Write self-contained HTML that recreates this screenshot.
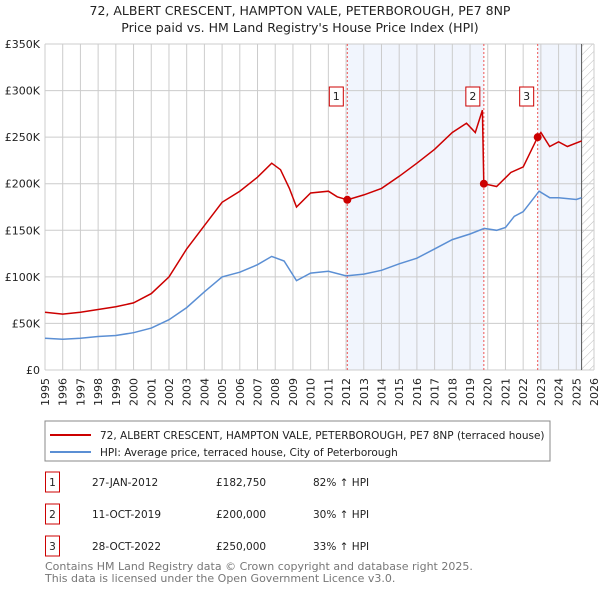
<!DOCTYPE html>
<html><head><meta charset="utf-8"><style>
body{margin:0;background:#fff;font-family:"Liberation Sans","DejaVu Sans",sans-serif;}
svg text{font-family:"DejaVu Sans","Liberation Sans",sans-serif;}
</style></head><body>
<svg id="c" width="600" height="590" xmlns="http://www.w3.org/2000/svg">
<defs><pattern id="hatch" width="6" height="6" patternUnits="userSpaceOnUse" patternTransform="rotate(45)"><line x1="0" y1="0" x2="0" y2="6" stroke="#bbb" stroke-width="1"/></pattern></defs>
<text x="300" y="15" text-anchor="middle" font-size="12.5" fill="#222">72, ALBERT CRESCENT, HAMPTON VALE, PETERBOROUGH, PE7 8NP</text>
<text x="300" y="32" text-anchor="middle" font-size="12.5" fill="#222">Price paid vs. HM Land Registry's House Price Index (HPI)</text>
<g id="plot"></g>
<rect x="45" y="421" width="505" height="40" fill="#fff" stroke="#888"/>
<line x1="50" y1="435" x2="91" y2="435" stroke="#cc0000" stroke-width="2"/>
<text x="100" y="439" font-size="10.5" fill="#222">72, ALBERT CRESCENT, HAMPTON VALE, PETERBOROUGH, PE7 8NP (terraced house)</text>
<line x1="50" y1="452" x2="91" y2="452" stroke="#5b8fd4" stroke-width="2"/>
<text x="100" y="456" font-size="10.5" fill="#222">HPI: Average price, terraced house, City of Peterborough</text>
<g id="tbl" font-size="10.5" fill="#222"></g>
<text x="45" y="570" font-size="11" fill="#777">Contains HM Land Registry data © Crown copyright and database right 2025.</text>
<text x="45" y="582" font-size="11" fill="#777">This data is licensed under the Open Government Licence v3.0.</text>
</svg>
<script>
const yTicks=[0,50,100,150,200,250,300,350];
const yTickLabels=["£0","£50K","£100K","£150K","£200K","£250K","£300K","£350K"];
const years=[1995,1996,1997,1998,1999,2000,2001,2002,2003,2004,2005,2006,2007,2008,2009,2010,2011,2012,2013,2014,2015,2016,2017,2018,2019,2020,2021,2022,2023,2024,2025,2026];
const hpiT=[1995,1996,1997,1998,1999,2000,2001,2002,2003,2004,2005,2006,2007,2007.8,2008.5,2009.2,2010,2011,2012,2013,2014,2015,2016,2017,2018,2019,2019.8,2020.5,2021,2021.5,2022,2022.9,2023.5,2024,2025,2025.3];
const hpiV=[34,33,34,36,37,40,45,54,67,84,100,105,113,122,117,96,104,106,101,103,107,114,120,130,140,146,152,150,153,165,170,192,185,185,183,185];
const redT=[1995,1996,1997,1998,1999,2000,2001,2002,2003,2004,2005,2006,2007,2007.8,2008.3,2008.8,2009.2,2010,2011,2011.5,2012.07,2013,2014,2015,2016,2017,2018,2018.8,2019.3,2019.7,2019.78,2020.5,2021.3,2022,2022.82,2023,2023.5,2024,2024.5,2025.3];
const redV=[62,60,62,65,68,72,82,100,130,155,180,192,207,222,215,195,175,190,192,186,182.75,188,195,208,222,237,255,265,255,279,200,197,212,218,250,255,240,245,240,246];
const saleT=[2012.07,2019.78,2022.82];
const saleV=[182.75,200,250];
const saleLabels=["1","2","3"];
const saleDates=["27-JAN-2012","11-OCT-2019","28-OCT-2022"];
const salePrices=["£182,750","£200,000","£250,000"];
const saleHpi=["82% ↑ HPI","30% ↑ HPI","33% ↑ HPI"];
const NS="http://www.w3.org/2000/svg";
const X0=45,X1=594,Y0=370,Y1=44;
const xs=t=>X0+(t-1995)/(2026-1995)*(X1-X0);
const ys=v=>Y0-v/350*(Y0-Y1);
const g=document.getElementById('plot');
function mk(tag,attrs,parent){const e=document.createElementNS(NS,tag);for(const k in attrs)e.setAttribute(k,attrs[k]);(parent||g).appendChild(e);return e;}
let e;
e=mk('rect',{x:xs(saleT[0]),y:Y1,width:xs(saleT[1])-xs(saleT[0]),height:Y0-Y1,fill:'#eef3fc',opacity:0.8});


e=mk('rect',{x:xs(saleT[2]),y:Y1,width:xs(2025.3)-xs(saleT[2]),height:Y0-Y1,fill:'#eef3fc',opacity:0.8});


e=mk('rect',{x:xs(2025.3),y:Y1,width:X1-xs(2025.3),height:Y0-Y1,fill:'url(#hatch)'});


years.forEach(y=>{
 e=mk('line',{x1:xs(y),x2:xs(y),y1:Y1,y2:Y0,stroke:'#ccc','stroke-width':1});
 
 
 e=mk('text',{x:0,y:0,transform:`translate(${xs(y)+4},${Y0+8}) rotate(-90)`,'text-anchor':'end','font-size':11,fill:'#222'});
 e.textContent=y;
 
 
});
yTicks.forEach((v,i)=>{
 e=mk('line',{x1:X0,x2:X1,y1:ys(v),y2:ys(v),stroke:'#ccc','stroke-width':1});
 
 
 e=mk('text',{x:X0-5,y:ys(v)+4,'text-anchor':'end','font-size':11,fill:'#222'});
 e.textContent=yTickLabels[i];
 
 
});
e=mk('line',{x1:xs(2025.3),x2:xs(2025.3),y1:Y1,y2:Y0,stroke:'#555','stroke-width':1});


saleT.forEach((t,i)=>{
 e=mk('line',{x1:xs(t),x2:xs(t),y1:Y1,y2:Y0,stroke:'#e55','stroke-width':1,'stroke-dasharray':'2,2'});
 
 
});
function path(T,V){return T.map((t,i)=>(i?'L':'M')+xs(t).toFixed(1)+','+ys(V[i]).toFixed(1)).join('');}
e=mk('path',{d:path(hpiT,hpiV),fill:'none',stroke:'#5b8fd4','stroke-width':1.5});


e=mk('path',{d:path(redT,redV),fill:'none',stroke:'#cc0000','stroke-width':1.5});


saleT.forEach((t,i)=>{
 e=mk('circle',{cx:xs(t),cy:ys(saleV[i]),r:4,fill:'#cc0000'});
 
 
 const bx=xs(t)-18;
 e=mk('rect',{x:bx,y:87,width:14,height:19,fill:'#fff',stroke:'#cc0000'});
 
 
 e=mk('text',{x:bx+7,y:100,'text-anchor':'middle','font-size':11,fill:'#222'});
 e.textContent=saleLabels[i];
 
 
});
const tb=document.getElementById('tbl');
saleT.forEach((t,i)=>{
 const cy=482+i*32;
 e=mk('rect',{x:45.5,y:cy-10,width:14,height:20,fill:'#fff',stroke:'#cc0000'},tb);
 
 
 const cells=[[52.5,saleLabels[i],'middle'],[92,saleDates[i],'start'],[216,salePrices[i],'start'],[313,saleHpi[i],'start']];
 cells.forEach(c=>{
  e=mk('text',{x:c[0],y:cy+4,'text-anchor':c[2]},tb);
  e.textContent=c[1];
  
  
 });
});
</script>
</body></html>
